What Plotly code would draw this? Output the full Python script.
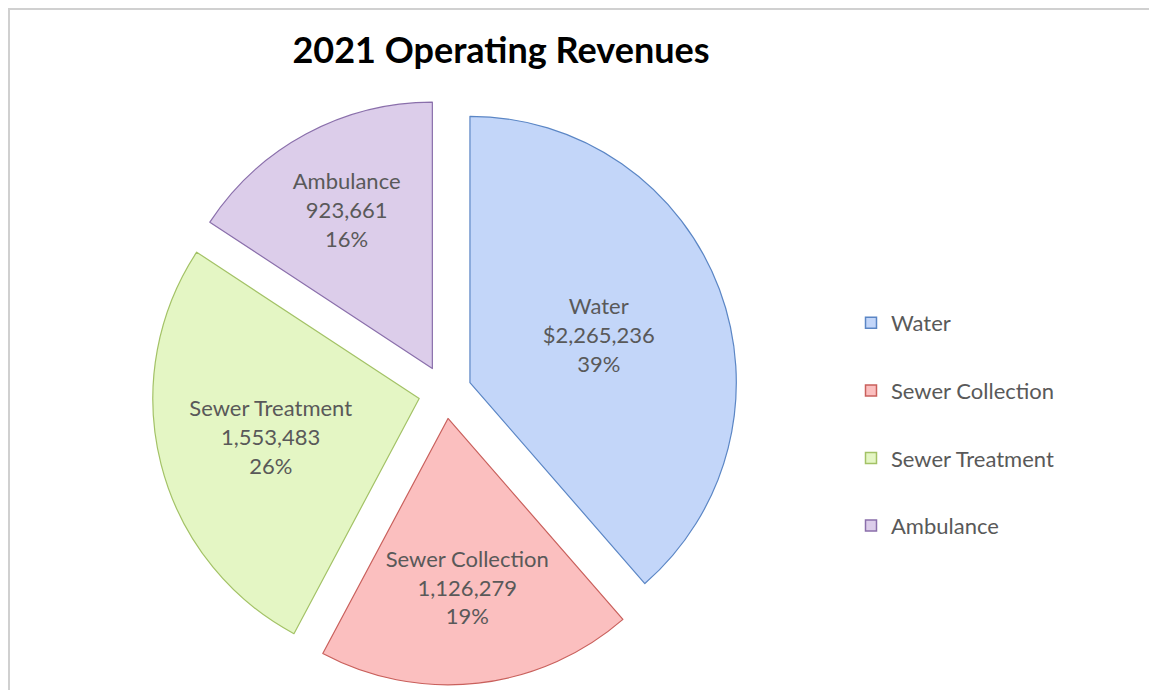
import plotly.graph_objects as go

categories = ["Water", "Sewer Collection", "Sewer Treatment", "Ambulance"]
revenues = [2265236, 1126279, 1553483, 923661]
value_labels = ["$2,265,236", "1,126,279", "1,553,483", "923,661"]

fill_colors = ["#c3d6f9", "#fbbfbf", "#e4f6c4", "#dccdea"]
line_colors = ["#5b86c5", "#c9605c", "#a3c266", "#8a6fab"]
pulls = [0.1, 0.1, 0.1, 0.1]

W, H = 1157, 690
OFF = 8  # page body margin


def fx(px):
    return (px - OFF) / W


def fy(py):
    return 1 - (py - OFF) / H


cx, cy, half = 445, 392, 293

fig = go.Figure()
fig.add_trace(go.Pie(
    labels=categories,
    values=revenues,
    text=value_labels,
    texttemplate="%{label}<br>%{text}<br>%{percent:.0%}",
    textposition="inside",
    insidetextorientation="horizontal",
    textfont=dict(family="Lato", size=22, color="#595959"),
    marker=dict(colors=fill_colors, line=dict(color=line_colors, width=1.2)),
    pull=pulls,
    sort=False,
    direction="clockwise",
    rotation=0,
    showlegend=False,
    hoverinfo="label+value+percent",
    domain=dict(x=[fx(cx - half), fx(cx + half)],
                y=[fy(cy + half), fy(cy - half)]),
))

for i, name in enumerate(categories):
    fig.add_trace(go.Scatter(
        x=[None], y=[None], mode="markers", name=name,
        legendgroup=name,
        marker=dict(symbol="square", size=11, color=fill_colors[i],
                    line=dict(color=line_colors[i], width=1.5)),
    ))

fig.update_layout(
    width=W, height=H,
    margin=dict(l=0, r=0, t=0, b=0),
    paper_bgcolor="white", plot_bgcolor="white",
    xaxis=dict(visible=False), yaxis=dict(visible=False),
    title=dict(text="<b>2021 Operating Revenues</b>", x=fx(501), xanchor="center",
               y=fy(50), yanchor="middle",
               font=dict(family="Lato", size=36, color="#000000")),
    legend=dict(x=fx(851), xanchor="left", y=fy(302), yanchor="top",
                traceorder="grouped", tracegroupgap=36,
                font=dict(family="Lato", size=22, color="#595959"),
                bgcolor="rgba(0,0,0,0)"),
    shapes=[
        dict(type="line", xref="paper", yref="paper", x0=0, x1=1.0,
             y0=1 - 1 / H, y1=1 - 1 / H, line=dict(color="#d0d0d0", width=2)),
        dict(type="line", xref="paper", yref="paper", x0=1 / W, x1=1 / W,
             y0=0, y1=1, line=dict(color="#d0d0d0", width=2)),
    ],
)

fig.write_html("out.html")
